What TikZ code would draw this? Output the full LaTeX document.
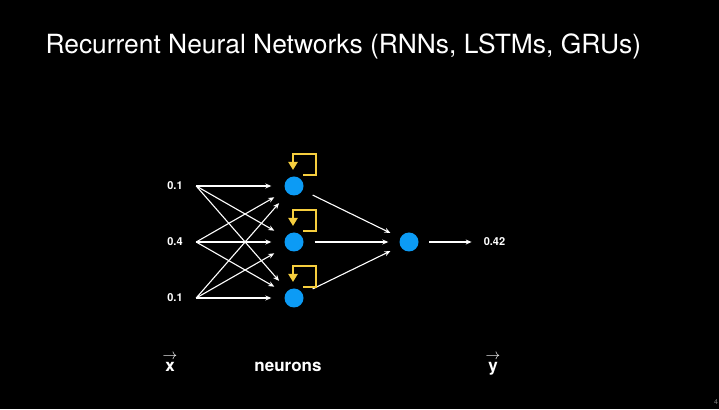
\documentclass[tikz,border=0pt]{standalone}
\usepackage{amsmath}
\usepackage{fontspec}
\setmainfont{TeX Gyre Heros}
\usepackage{tikz}
\usetikzlibrary{positioning,arrows.meta}
\definecolor{neuronblue}{RGB}{12,155,245}
\definecolor{loopyellow}{RGB}{246,206,62}

\begin{document}
\begin{tikzpicture}[x=1pt,y=1pt,node distance=56pt and 119pt,on grid,
  >={Stealth[length=6pt,width=5pt]},
  neuron/.style={circle,fill=neuronblue,minimum size=19pt,inner sep=0pt},
  value/.style={text=white,font=\bfseries\fontsize{11}{13}\selectfont,minimum width=42pt,inner sep=0pt},
  caption/.style={text=white,font=\bfseries\fontsize{17}{20}\selectfont,anchor=base},
  wire/.style={white,line width=1.1pt,->},
  recur/.style={draw=loopyellow,line width=2.2pt,-{Triangle[length=8pt,width=9pt]},line join=miter}]
  \fill[black] (0,0) rectangle (719,409);
  \useasboundingbox (0,0) rectangle (719,409);
  \node[anchor=base west,text=white,font=\fontsize{26.4}{30}\selectfont] (title) at (42,355) {Recurrent Neural Networks (RNNs, LSTMs, GRUs)};
  % hidden layer
  \node[neuron] (h2) at (294,167) {};
  \node[neuron] (h1) [above = of h2] {};
  \node[neuron] (h3) [below = of h2] {};
  % inputs
  \node[value] (x1) [left = of h1] {0.1};
  \node[value] (x2) [left = of h2] {0.4};
  \node[value] (x3) [left = of h3] {0.1};
  % output
  \node[neuron] (o) [right = 115pt of h2] {};
  \node[value,minimum width=0pt] (res) [right = 85.5pt of o] {0.42};
  \path[wire,shorten >=13pt]
  (x1.east)
  edge [] (h1)
  edge [] (h2)
  edge [] (h3)
  (x2.east)
  edge [] (h1)
  edge [] (h2)
  edge [] (h3)
  (x3.east)
  edge [] (h1)
  edge [] (h2)
  edge [] (h3)
  ;
  \path[wire,shorten >=11pt,shorten <=11pt]
  (h1) edge [] (o)
  (h2) edge [] (o)
  (h3) edge [] (o)
  ;
  \draw[wire,shorten >=12pt,shorten <=10.5pt] (o) -- (res);
  % recurrent loops
  \foreach \h in {h1,h2,h3}
    \draw[recur] ([shift={(9pt,11pt)}]\h.center) -| ([shift={(22pt,32pt)}]\h.center)
      -| ([shift={(-1pt,16pt)}]\h.center);
  % captions
  \node[caption] (xvec) at (170,37) {$\overset{\scalebox{0.85}{$\rightarrow$}}{\textbf{x}}$};
  \node[caption] (neurons) at (288,37) {neurons};
  \node[caption] (yvec) at (493,37) {$\overset{\scalebox{0.85}{$\rightarrow$}}{\textbf{y}}$};
  \node[text=gray,font=\fontsize{7}{8}\selectfont,anchor=base west,inner sep=0pt] (page) at (714,5) {4};
\end{tikzpicture}
\end{document}
